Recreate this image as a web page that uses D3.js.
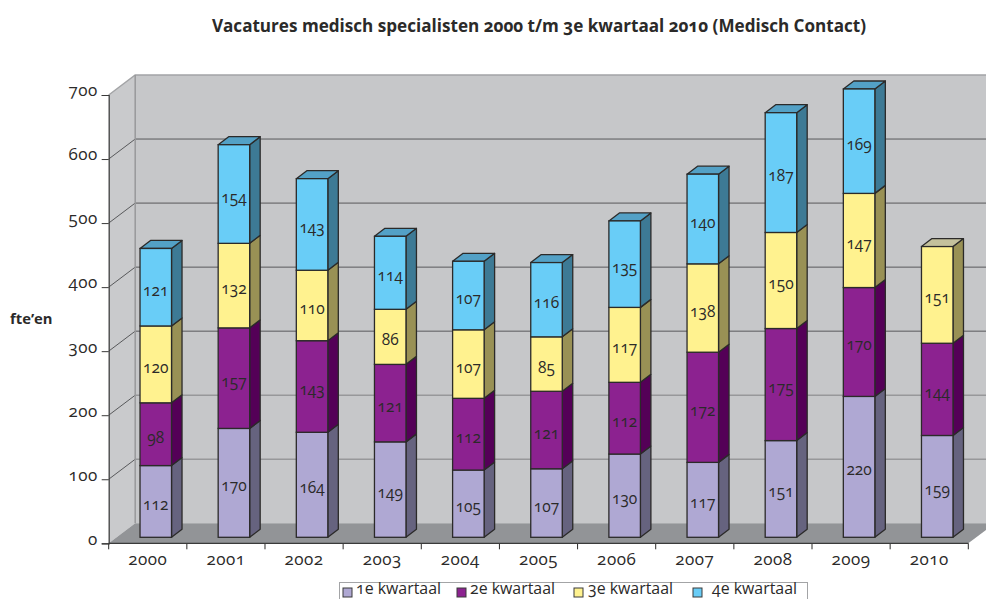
<!DOCTYPE html>
<html>
<head>
<meta charset="utf-8">
<script src="https://cdn.jsdelivr.net/npm/d3@7"></script>
<style>
  html, body { margin: 0; background: #fff; }
  svg { display: block; }
  text { font-family: "Open Sans", sans-serif; fill: #2b2a29; font-feature-settings: "onum" 1; }
</style>
</head>
<body>
<div id="chart"></div>
<script>
const years = ['2000', '2001', '2002', '2003', '2004', '2005', '2006', '2007', '2008', '2009', '2010']
const kwartaal1 = [112, 170, 164, 149, 105, 107, 130, 117, 151, 220, 159]
const kwartaal2 = [98, 157, 143, 121, 112, 121, 112, 172, 175, 170, 144]
const kwartaal3 = [120, 132, 110, 86, 107, 85, 117, 138, 150, 147, 151]
const kwartaal4 = [121, 154, 143, 114, 107, 116, 135, 140, 187, 169, null]
const yTicks = [0, 100, 200, 300, 400, 500, 600, 700]
const seriesNames = ['1e kwartaal', '2e kwartaal', '3e kwartaal', '4e kwartaal']

const width = 986
const height = 599
const wall = { dx: 26.5, dy: -20 }
const barDepth = { dx: 8, dy: -6 }
const top3d = { dx: 10.5, dy: -8 }

const colors = [
  { front: '#afa8d3', side: '#66637f', top: '#8a86a8' },
  { front: '#8c2290', side: '#540057', top: '#6f1a72' },
  { front: '#fff28f', side: '#999155', top: '#c4c19c' },
  { front: '#69cdf7', side: '#3d7a95', top: '#53a1c6' }
]

const svg = d3.select('#chart').append('svg')
  .attr('width', width)
  .attr('height', height)
  .attr('viewBox', [0, 0, width, height].join(' '))

const x = d3.scaleBand().domain(years).range([108.7, 968.3])
const y = d3.scaleLinear().domain([0, 700]).range([543.3, 95]).clamp(true)

const poly = pts => pts.map(p => p.join(',')).join(' ')

// walls and floor
const x0 = x.range()[0]
const x1 = x.range()[1]
const y0 = y(0)
const yTop = y(700)

svg.append('polygon')
  .attr('points', poly([[x0 + wall.dx, yTop + wall.dy], [width, yTop + wall.dy], [width, y0 + wall.dy], [x0 + wall.dx, y0 + wall.dy]]))
  .attr('fill', '#c6c7c9')
svg.append('polygon')
  .attr('points', poly([[x0, yTop], [x0 + wall.dx, yTop + wall.dy], [x0 + wall.dx, y0 + wall.dy], [x0, y0]]))
  .attr('fill', '#c9cacc')
svg.append('polygon')
  .attr('points', poly([[x0, y0], [x0 + wall.dx, y0 + wall.dy], [width, y0 + wall.dy], [width, y0 + wall.dy * (width - x1) / wall.dx], [x1, y0]]))
  .attr('fill', '#929497')

// gridlines, the lower two are drawn lighter in the original
const grid = svg.append('g').attr('class', 'grid')
grid.selectAll('line.back')
  .data(yTicks.slice(1, -1))
  .join('line')
  .attr('class', 'back')
  .attr('x1', x0 + wall.dx)
  .attr('x2', width)
  .attr('y1', d => y(d) + wall.dy)
  .attr('y2', d => y(d) + wall.dy)
  .attr('stroke', d => d <= 200 ? '#97989a' : '#58595b')
  .attr('stroke-width', d => d <= 200 ? 1.5 : 1)
grid.selectAll('line.side')
  .data(yTicks.slice(1, -1))
  .join('line')
  .attr('class', 'side')
  .attr('x1', x0)
  .attr('x2', x0 + wall.dx)
  .attr('y1', d => y(d))
  .attr('y2', d => y(d) + wall.dy)
  .attr('stroke', '#58595b')
  .attr('stroke-width', 1)

// wall edges
svg.append('path')
  .attr('d', d3.line()([[x0, yTop], [x0 + wall.dx, yTop + wall.dy], [width, yTop + wall.dy]]))
  .attr('fill', 'none')
  .attr('stroke', '#a3a4a6')
  .attr('stroke-width', 1.5)
svg.append('line')
  .attr('x1', x0 + wall.dx).attr('x2', x0 + wall.dx)
  .attr('y1', yTop + wall.dy).attr('y2', y0 + wall.dy)
  .attr('stroke', '#97989a')
  .attr('stroke-width', 1.5)

// bars
const stack = d3.stack().keys([0, 1, 2, 3]).value((d, k) => d[k] || 0)
const rows = years.map((_, i) => [kwartaal1[i], kwartaal2[i], kwartaal3[i], kwartaal4[i]])
const stacked = stack(rows)
const barW = 31.5

const layers = svg.append('g').attr('class', 'bars')
  .selectAll('g')
  .data(stacked)
  .join('g')

const barX = i => x(years[i]) + (x.bandwidth() - barW) / 2 + barDepth.dx
const segs = layers.selectAll('g')
  .data(s => s.map((d, i) => ({ i, k: s.key, y0: d[0], y1: d[1], value: rows[i][s.key] })).filter(d => d.value))
  .join('g')

const isTop = d => d.k === 3 || rows[d.i][d.k + 1] == null

segs.append('polygon') // side
  .attr('points', d => {
    const r = barX(d.i) + barW
    const b = y(d.y0) + barDepth.dy
    const t = y(d.y1) + barDepth.dy
    return poly([[r, b], [r + top3d.dx, b + top3d.dy], [r + top3d.dx, t + top3d.dy], [r, t]])
  })
  .attr('fill', d => colors[d.k].side)
  .attr('stroke', '#2b2a29')
  .attr('stroke-width', 1.3)
  .attr('stroke-linejoin', 'round')

segs.filter(isTop).append('polygon') // top
  .attr('points', d => {
    const l = barX(d.i)
    const t = y(d.y1) + barDepth.dy
    return poly([[l, t], [l + top3d.dx, t + top3d.dy], [l + barW + top3d.dx, t + top3d.dy], [l + barW, t]])
  })
  .attr('fill', d => colors[d.k].top)
  .attr('stroke', '#2b2a29')
  .attr('stroke-width', 1.3)
  .attr('stroke-linejoin', 'round')

segs.append('rect') // front
  .attr('x', d => barX(d.i))
  .attr('width', barW)
  .attr('y', d => y(d.y1) + barDepth.dy)
  .attr('height', d => y(d.y0) - y(d.y1))
  .attr('fill', d => colors[d.k].front)
  .attr('stroke', '#2b2a29')
  .attr('stroke-width', 1.3)

segs.append('text')
  .attr('x', d => barX(d.i) + barW / 2)
  .attr('y', d => (y(d.y0) + y(d.y1)) / 2 + barDepth.dy + 8.5)
  .attr('text-anchor', 'middle')
  .attr('font-size', 15.5)
  .text(d => d.value)

// axes
const xAxis = d3.axisBottom(x).tickSize(0).tickPadding(10)
const gx = svg.append('g')
  .attr('transform', `translate(0,${y0})`)
  .call(xAxis)
gx.select('.domain').remove()
gx.selectAll('text').attr('font-size', 17).attr('letter-spacing', 0.5).attr('dy', '0.7em')
gx.selectAll('line.edge')
  .data(d3.range(years.length + 1))
  .join('line')
  .attr('class', 'edge')
  .attr('x1', i => x0 + i * x.step())
  .attr('x2', i => x0 + i * x.step())
  .attr('y1', 0)
  .attr('y2', 6)
  .attr('stroke', '#2b2a29')
gx.append('line').attr('x1', x0).attr('x2', x1).attr('stroke', '#3a3a3a').attr('stroke-width', 1.2)

const gy = svg.append('g')
  .attr('transform', `translate(${x0},0)`)
  .call(d3.axisLeft(y).tickValues(yTicks).tickSize(7).tickPadding(4))
gy.select('.domain').attr('stroke', '#3a3a3a').attr('stroke-width', 1.2)
gy.selectAll('.tick line').attr('stroke', '#3a3a3a')
gy.selectAll('text').attr('font-size', 17).attr('letter-spacing', 0.5).attr('dy', '0.05em')

// titles
svg.append('text')
  .attr('x', 539)
  .attr('y', 32)
  .attr('text-anchor', 'middle')
  .attr('font-size', 17.1)
  .attr('font-weight', 'bold')
  .text('Vacatures medisch specialisten 2000 t/m 3e kwartaal 2010 (Medisch Contact)')
svg.append('text')
  .attr('x', 10)
  .attr('y', 324)
  .attr('font-size', 14.8)
  .attr('font-weight', 'bold')
  .text('fte’en')

// legend
const legend = svg.append('g')
legend.append('rect')
  .attr('x', 339.5).attr('y', 582.5).attr('width', 468).attr('height', 30)
  .attr('fill', '#fff').attr('stroke', '#a3a4a6')
const legendX = [343, 457, 574, 693]
const legendTextX = [356, 470, 588, 712]
seriesNames.forEach((name, i) => {
  legend.append('rect')
    .attr('x', legendX[i]).attr('y', 588).attr('width', 9).attr('height', 9)
    .attr('fill', colors[i].front).attr('stroke', '#3a3a3a')
  legend.append('text')
    .attr('x', legendTextX[i]).attr('y', 594.3)
    .attr('font-size', 15.9)
    .text(name)
})
</script>
</body>
</html>
